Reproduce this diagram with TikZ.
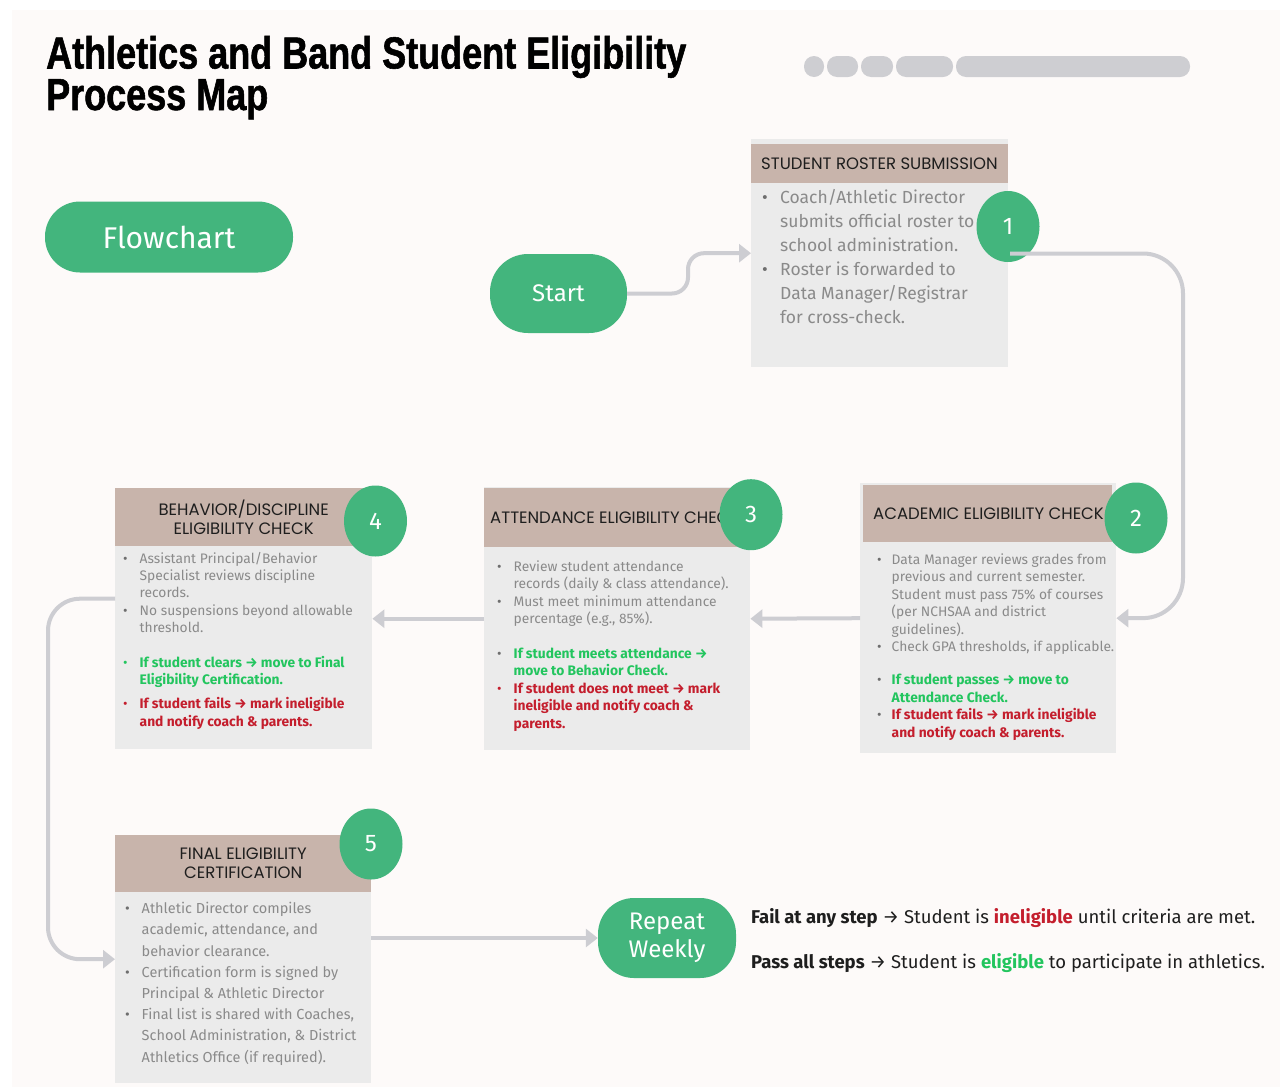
\documentclass[tikz,border=0pt]{standalone}
\usepackage{fontspec}
\setmainfont{Fira Sans}
\newfontfamily\titlefont[FakeStretch=0.8,FakeBold=1.2]{Liberation Sans}
\newfontfamily\headfont{Poppins}
\usetikzlibrary{positioning,arrows.meta,shapes.geometric}

\definecolor{leaf}{RGB}{67,181,125}
\definecolor{wiregray}{RGB}{205,205,210}
\definecolor{pillgray}{RGB}{206,206,210}
\definecolor{panel}{RGB}{253,250,249}
\definecolor{boxfill}{RGB}{235,235,235}
\definecolor{headfill}{RGB}{200,180,171}
\definecolor{ink}{RGB}{30,30,30}
\definecolor{mute}{RGB}{138,138,138}
\definecolor{dotgray}{RGB}{110,110,110}
\definecolor{okgreen}{RGB}{34,197,94}
\definecolor{badred}{RGB}{196,30,45}

\newlength\ind
\newcommand\bul[1][dotgray]{\makebox[\ind][l]{\textcolor{#1}{\textbullet}}}
\newcommand\gap{\hspace*{\ind}}
\newcommand\passtext[1]{\textcolor{okgreen}{\bfseries #1}}
\newcommand\failtext[1]{\textcolor{badred}{\bfseries #1}}

\begin{document}
\begin{tikzpicture}[
        x=1pt, y=-1pt,
        stepbody/.style={fill=boxfill, anchor=north west, inner sep=0pt},
        stephead/.style={fill=headfill, anchor=north west, inner sep=0pt, text=ink,
            align=center, font=\headfont\fontsize{16.5}{19}\selectfont},
        headtext/.style={inner sep=0pt, anchor=west, text=ink, font=\headfont\fontsize{16.5}{19}\selectfont},
        steptext/.style={anchor=base west, inner sep=0pt, align=left, text=mute},
        hang/.style={execute at begin node={\setlength\ind{#1}}},
        numdot/.style={ellipse, fill=leaf, minimum width=63pt, minimum height=71pt,
            inner sep=0pt, text=white, font=\fontsize{24}{24}\selectfont},
        terminal/.style={fill=leaf, text=white, inner sep=0pt, align=center},
        wire/.style={draw=wiregray, line width=4pt, -{Triangle[length=12pt,width=18pt]}},
        legend/.style={anchor=base west, inner sep=0pt, text=ink, font=\fontsize{18.5}{22}\selectfont},
        pill/.style={fill=pillgray, rounded corners=10pt},
    ]
    % page
    \useasboundingbox (0,0) rectangle (1284,1090);
    \fill[white] (0,0) rectangle (1284,1090);
    \fill[panel] (12,10) rectangle (1280,1087);

    % title and progress bar
    \node[anchor=base west, inner sep=0pt, align=left,
        font=\titlefont\bfseries\fontsize{45}{35}\selectfont] (title) at (46,110)
        {Athletics and Band Student Eligibility\\Process Map};
    \foreach \a/\b in {804/824,827/858,861/893,896/953,956/1190}
        \fill[pill] (\a,56) rectangle (\b,77);

    \node[terminal, minimum width=248pt, minimum height=71pt, rounded corners=35pt,
        font=\fontsize{30}{30}\selectfont] (flowchart) at (169,237) {Flowchart};
    \node[terminal, minimum width=137pt, minimum height=79pt, rounded corners=38pt,
        font=\fontsize{24}{24}\selectfont] (start) at (558.5,293.5) {Start};
    \node[terminal, minimum width=138pt, minimum height=80pt, rounded corners=36pt,
        font=\fontsize{24}{28}\selectfont] (weekly) at (667,938) {Repeat\\Weekly};

    % step boxes
    \node[stepbody, minimum width=257pt, minimum height=228pt] (roster) at (751,139) {};
    \node[stepbody, minimum width=256pt, minimum height=270pt] (academic) at (860,483) {};
    \node[stepbody, minimum width=266pt, minimum height=263pt] (attendance) at (484,487) {};
    \node[stepbody, minimum width=257pt, minimum height=261pt] (behavior) at (115,488) {};
    \node[stepbody, minimum width=256pt, minimum height=248pt] (final) at (115,835) {};

    \node[stephead, minimum width=257pt, minimum height=39pt] (rosterhead) at (751,144) {};
    \node[stephead, minimum width=249pt, minimum height=57pt] (academichead) at (863,485) {};
    \node[stephead, minimum width=266pt, minimum height=59pt] (attendancehead) at (484,488) {};
    \node[stephead, minimum width=257pt, minimum height=58pt] (behaviorhead) at (115,488)
        {BEHAVIOR/DISCIPLINE\\ELIGIBILITY CHECK};
    \node[stephead, minimum width=256pt, minimum height=57pt] (finalhead) at (115,835)
        {FINAL ELIGIBILITY\\CERTIFICATION};
    \node[headtext, right=10pt of rosterhead.west] (rostertitle) {STUDENT ROSTER SUBMISSION};
    \node[headtext, right=10pt of academichead.west] (academictitle) {ACADEMIC ELIGIBILITY CHECK};
    \node[headtext, right=6pt of attendancehead.west] (attendancetitle) {ATTENDANCE ELIGIBILITY CHECK};

    % box texts (placed by the baseline of their last line)
    \node[steptext, hang=18pt, font=\fontsize{17.5}{24}\selectfont] (rostertext) at (762,323) {%
        \bul Coach/Athletic Director\\
        \gap submits official roster to\\
        \gap school administration.\\
        \bul Roster is forwarded to\\
        \gap Data Manager/Registrar\\
        \gap for cross-check.};
    \node[steptext, hang=14.5pt, font=\fontsize{13.8}{17.4}\selectfont] (academictext) at (877,737) {%
        \bul Data Manager reviews grades from\\
        \gap previous and current semester.\\
        \gap Student must pass 75\% of courses\\
        \gap (per NCHSAA and district\\
        \gap guidelines).\\
        \bul Check GPA thresholds, if applicable.\\[16pt]
        \bul\passtext{If student passes → move to}\\
        \gap\passtext{Attendance Check.}\\
        \bul\failtext{If student fails → mark ineligible}\\
        \gap\failtext{and notify coach \& parents.}};
    \node[steptext, hang=16.5pt, font=\fontsize{13.8}{17.4}\selectfont] (attendancetext) at (497,728) {%
        \bul Review student attendance\\
        \gap records (daily \& class attendance).\\
        \bul Must meet minimum attendance\\
        \gap percentage (e.g., 85\%).\\[17.6pt]
        \bul\passtext{If student meets attendance →}\\
        \gap\passtext{move to Behavior Check.}\\
        \bul[badred]\failtext{If student does not meet → mark}\\
        \gap\failtext{ineligible and notify coach \&}\\
        \gap\failtext{parents.}};
    \node[steptext, hang=16.5pt, font=\fontsize{13.8}{17.3}\selectfont] (behaviortext) at (123,726) {%
        \bul Assistant Principal/Behavior\\
        \gap Specialist reviews discipline\\
        \gap records.\\
        \bul No suspensions beyond allowable\\
        \gap threshold.\\[17.4pt]
        \bul[okgreen]\passtext{If student clears → move to Final}\\
        \gap\passtext{Eligibility Certification.}\\[7pt]
        \bul[badred]\failtext{If student fails → mark ineligible}\\
        \gap\failtext{and notify coach \& parents.}};
    \node[steptext, hang=16.5pt, font=\fontsize{14.5}{21.2}\selectfont] (finaltext) at (125,1062) {%
        \bul Athletic Director compiles\\
        \gap academic, attendance, and\\
        \gap behavior clearance.\\
        \bul Certification form is signed by\\
        \gap Principal \& Athletic Director\\
        \bul Final list is shared with Coaches,\\
        \gap School Administration, \& District\\
        \gap Athletics Office (if required).};

    % step numbers
    \foreach \pos/\num in {(1008,226.5)/1, (1136,518)/2, (751,514.7)/3, (375.5,521)/4, (371,844)/5}
        \node[numdot] (n\num) at \pos {\num};

    % connectors
    \draw[wire, rounded corners=16pt] (start.east) -| ([xshift=-63pt]roster.west) -- (roster.west);
    \draw[wire, rounded corners=40pt] ([shift={(2pt,-27pt)}]n1.center) -| (1183,618) -- (academic.east);
    \draw[wire] (academic.west) -- (attendance.east);
    \draw[wire] (attendance.west) -- (behavior.east);
    \draw[wire, rounded corners=32pt] ([yshift=20pt]behavior.west) -| ([xshift=-67pt]final.west) -- (final.west);
    \draw[wire] (final.east |- weekly.west) -- (weekly.west);

    % outcome notes
    \node[legend] (failnote) at (751,923)
        {\textbf{Fail at any step} → Student is \textcolor{badred}{\textbf{ineligible}} until criteria are met.};
    \node[legend] (passnote) at (751,968)
        {\textbf{Pass all steps} → Student is \textcolor{okgreen}{\textbf{eligible}} to participate in athletics.};
\end{tikzpicture}
\end{document}
